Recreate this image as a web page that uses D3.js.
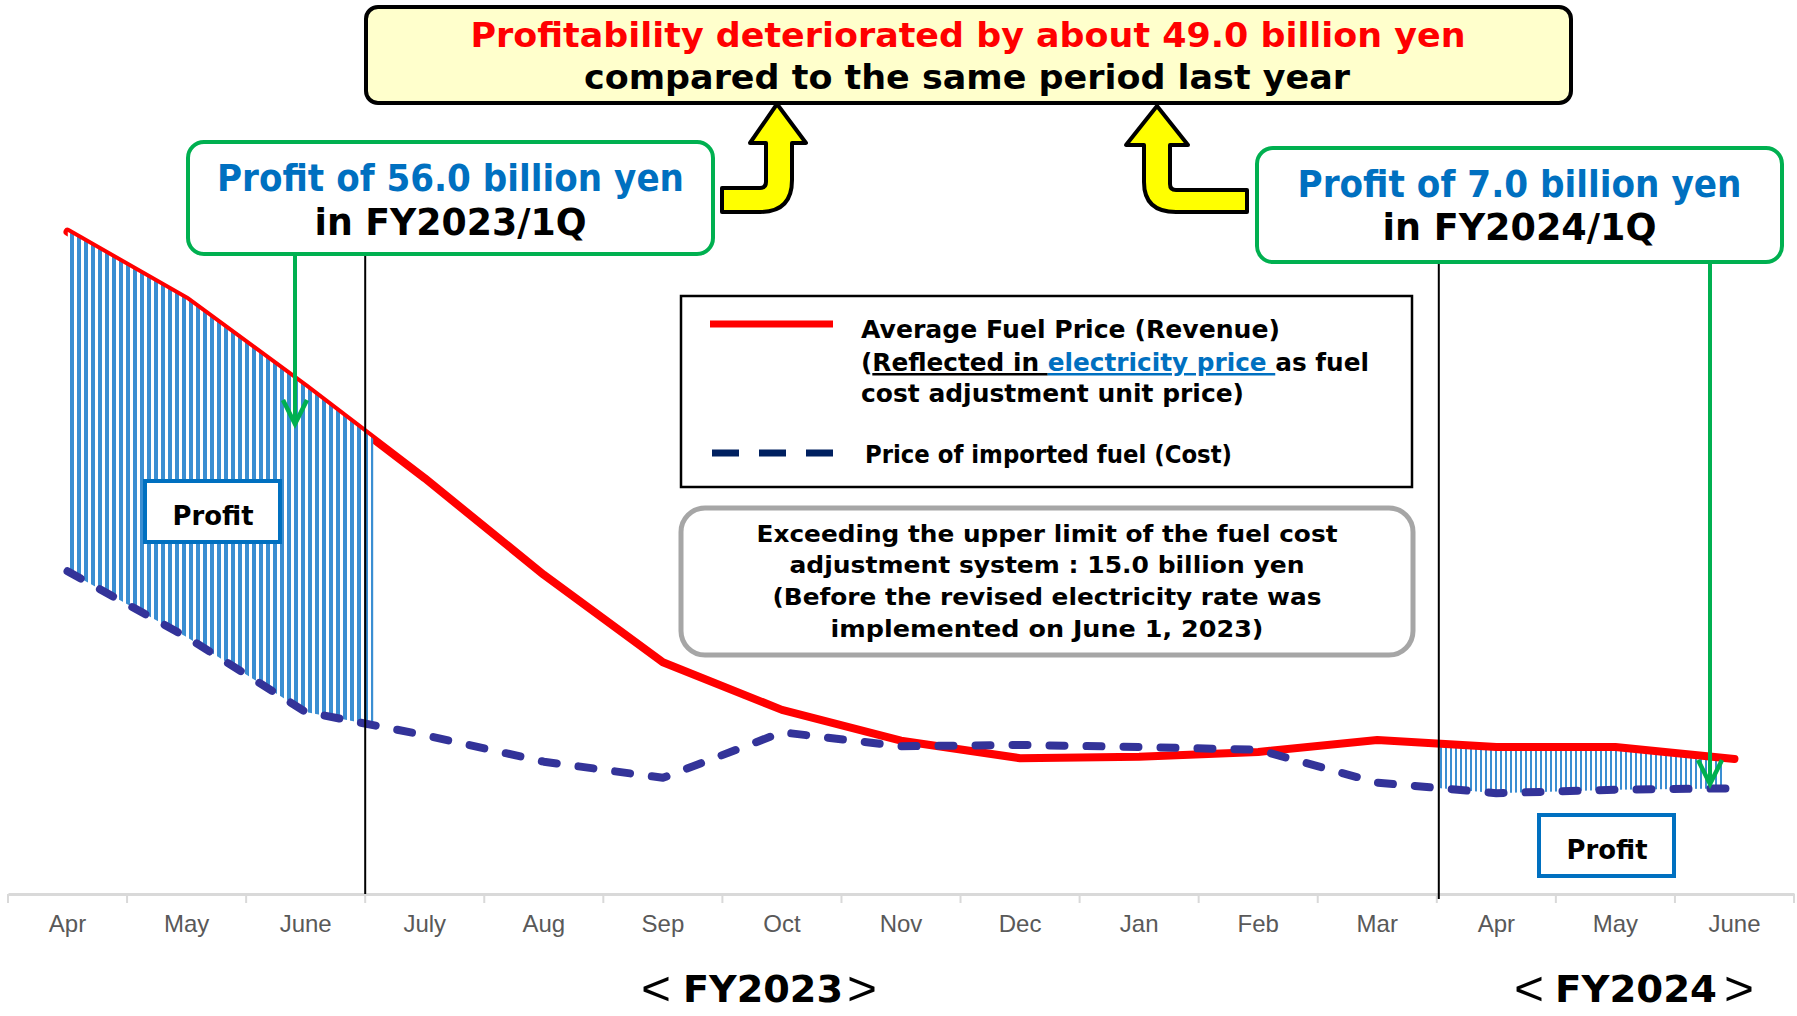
<!DOCTYPE html>
<html lang="en">
<head>
<meta charset="UTF-8">
<title>Fuel price vs revenue</title>
<script src="https://d3js.org/d3.v7.min.js"></script>
<style>
  body { margin: 0; background: #fff; }
</style>
</head>
<body>
<script>
// month labels, FY2023 Apr .. FY2024 June
var months = ['Apr', 'May', 'June', 'July', 'Aug', 'Sep', 'Oct', 'Nov', 'Dec', 'Jan', 'Feb', 'Mar', 'Apr', 'May', 'June'];
// average fuel price reflected in electricity price (revenue), index
var revenue = [94.6, 84.9, 72.4, 59.4, 45.6, 33.1, 26.3, 21.9, 19.4, 19.6, 20.3, 22.0, 21.0, 21.0, 19.3];
// price of imported fuel (cost)
var cost = [46.1, 36.7, 26.0, 22.7, 18.9, 16.6, 23.1, 21.1, 21.3, 21.0, 20.6, 15.9, 14.4, 14.9, 15.1];

var W = 1797, H = 1016;
var FONT = "'DejaVu Sans', Verdana, sans-serif";

var svg = d3.select('body').append('svg')
    .attr('width', W)
    .attr('height', H)
    .style('background', '#fff');

var x = d3.scaleBand().domain(d3.range(months.length)).range([8, 1794]).padding(0);
var cx = function(i) { return x(i) + x.bandwidth() / 2; };
var y = d3.scaleLinear().domain([0, 100]).range([894, 194]);

var rows = months.map(function(m, i) { return {r: revenue[i], c: cost[i]}; });

// hatch patterns
var defs = svg.append('defs');
function stripes(id, w, sw) {
    var p = defs.append('pattern').attr('id', id).attr('patternUnits', 'userSpaceOnUse')
        .attr('width', w).attr('height', 10);
    p.append('rect').attr('width', w).attr('height', 10).attr('fill', '#fff');
    p.append('rect').attr('width', sw).attr('height', 10).attr('fill', '#3A8ED2');
}
stripes('hatchA', 7, 4);
stripes('hatchB', 5, 2);

defs.append('clipPath').attr('id', 'clipA').append('rect')
    .attr('x', cx(0)).attr('y', 0).attr('width', x(3) + 8 - cx(0)).attr('height', H);
defs.append('clipPath').attr('id', 'clipB').append('rect')
    .attr('x', x(12) + 2).attr('y', 0).attr('width', cx(14) - 10 - x(12) - 2).attr('height', H);

// x axis
var axis = d3.axisBottom(x).tickFormat(function(i) { return months[i]; })
    .tickSize(0).tickSizeOuter(0).tickPadding(21);
var gx = svg.append('g').attr('transform', 'translate(0,894)').call(axis);
gx.select('.domain').attr('stroke', '#D9D9D9').attr('stroke-width', 3);
gx.selectAll('text')
    .attr('font-family', "'Liberation Sans', Arial, sans-serif")
    .attr('font-size', 24)
    .attr('fill', '#595959');
gx.selectAll('line.bound').data(d3.range(months.length + 1)).join('line')
    .attr('class', 'bound')
    .attr('x1', function(i) { return i < months.length ? x(i) : x.range()[1]; })
    .attr('x2', function(i) { return i < months.length ? x(i) : x.range()[1]; })
    .attr('y1', 0).attr('y2', 9)
    .attr('stroke', '#D9D9D9').attr('stroke-width', 2);

var area = d3.area()
    .x(function(d, i) { return cx(i); })
    .y0(function(d) { return y(d.c); })
    .y1(function(d) { return y(d.r); });
var line = d3.line()
    .x(function(d, i) { return cx(i); })
    .y(function(d) { return y(d); });

// FY2024 profit area sits under the red line
svg.append('path').datum(rows).attr('d', area)
    .attr('fill', 'url(#hatchB)').attr('clip-path', 'url(#clipB)');

svg.append('path').datum(revenue).attr('d', line)
    .attr('fill', 'none').attr('stroke', '#FF0000').attr('stroke-width', 8)
    .attr('stroke-linejoin', 'round').attr('stroke-linecap', 'round');

// FY2023 profit area is drawn over the red line
svg.append('path').datum(rows).attr('d', area)
    .attr('fill', 'url(#hatchA)').attr('clip-path', 'url(#clipA)');

svg.append('path').datum(cost).attr('d', line)
    .attr('fill', 'none').attr('stroke', '#333399').attr('stroke-width', 8)
    .attr('stroke-dasharray', '15 22').attr('stroke-linecap', 'round')
    .attr('stroke-linejoin', 'round');

// quarter separators
svg.append('line').attr('x1', x(3)).attr('x2', x(3)).attr('y1', 254).attr('y2', 894)
    .attr('stroke', '#000').attr('stroke-width', 2);
svg.append('line').attr('x1', x(12) + 2).attr('x2', x(12) + 2).attr('y1', 262).attr('y2', 899)
    .attr('stroke', '#000').attr('stroke-width', 2);

function label(txt, tx, ty, size, color, width, anchor) {
    return svg.append('text')
        .attr('x', tx).attr('y', ty)
        .attr('font-family', FONT).attr('font-weight', 'bold')
        .attr('font-size', size).attr('fill', color)
        .attr('text-anchor', anchor || 'middle')
        .attr('textLength', width).attr('lengthAdjust', 'spacingAndGlyphs')
        .text(txt);
}

// headline box
svg.append('rect').attr('x', 366).attr('y', 7).attr('width', 1205).attr('height', 96).attr('rx', 12)
    .attr('fill', '#FFFFCC').attr('stroke', '#000').attr('stroke-width', 4);
label('Profitability deteriorated by about 49.0 billion yen', 968, 47, 34, '#FF0000', 995);
label('compared to the same period last year', 967, 89, 34, '#000', 766);

// yellow bent arrows
svg.append('path')
    .attr('d', 'M722,188 L760,188 Q766,188 766,182 L766,143 L750,143 L777,104 L806,143 L792,143 L792,180 Q792,212 760,212 L722,212 Z')
    .attr('fill', '#FFFF00').attr('stroke', '#000').attr('stroke-width', 4).attr('stroke-linejoin', 'round');
svg.append('path')
    .attr('d', 'M1247,190 L1176,190 Q1170,190 1170,184 L1170,145 L1188,145 L1157,106 L1126,145 L1144,145 L1144,182 Q1144,212 1176,212 L1247,212 Z')
    .attr('fill', '#FFFF00').attr('stroke', '#000').attr('stroke-width', 4).attr('stroke-linejoin', 'round');

// green callouts
function callout(bx, by, bw, bh, t1, w1, b1, t2, w2, b2, ax, ay) {
    svg.append('line').attr('x1', ax).attr('x2', ax).attr('y1', by + bh).attr('y2', ay)
        .attr('stroke', '#00B050').attr('stroke-width', 4);
    svg.append('path').attr('d', 'M' + (ax - 12) + ',' + (ay - 24) + ' L' + ax + ',' + ay + ' L' + (ax + 12) + ',' + (ay - 24))
        .attr('fill', 'none').attr('stroke', '#00B050').attr('stroke-width', 4.5);
    svg.append('rect').attr('x', bx).attr('y', by).attr('width', bw).attr('height', bh).attr('rx', 16)
        .attr('fill', '#fff').attr('stroke', '#00B050').attr('stroke-width', 4);
    label(t1, bx + bw / 2, b1, 38, '#0070C0', w1);
    label(t2, bx + bw / 2, b2, 38, '#000', w2);
}
callout(188, 142, 525, 112, 'Profit of 56.0 billion yen', 467, 191, 'in FY2023/1Q', 272, 235, 295, 424);
callout(1257, 148, 525, 114, 'Profit of 7.0 billion yen', 444, 197, 'in FY2024/1Q', 274, 240, 1710, 784);

// "Profit" tags
function tag(bx, by) {
    svg.append('rect').attr('x', bx).attr('y', by).attr('width', 135).attr('height', 61)
        .attr('fill', '#fff').attr('stroke', '#0070C0').attr('stroke-width', 4);
    label('Profit', bx + 68, by + 44, 27, '#000', 81);
}
tag(145, 481);
tag(1539, 815);

// legend
svg.append('rect').attr('x', 681).attr('y', 296).attr('width', 731).attr('height', 191)
    .attr('fill', '#fff').attr('stroke', '#000').attr('stroke-width', 2.5);
svg.append('line').attr('x1', 710).attr('x2', 833).attr('y1', 324).attr('y2', 324)
    .attr('stroke', '#FF0000').attr('stroke-width', 7);
svg.append('line').attr('x1', 712).attr('x2', 833).attr('y1', 453).attr('y2', 453)
    .attr('stroke', '#002060').attr('stroke-width', 7).attr('stroke-dasharray', '27 20');
label('Average Fuel Price (Revenue)', 861, 338, 25, '#000', 419, 'start');
var l2 = svg.append('text').attr('x', 861).attr('y', 371)
    .attr('font-family', FONT).attr('font-weight', 'bold').attr('font-size', 25).attr('fill', '#000')
    .attr('textLength', 508).attr('lengthAdjust', 'spacingAndGlyphs');
l2.append('tspan').text('(');
l2.append('tspan').attr('text-decoration', 'underline').text('Reflected in ');
l2.append('tspan').attr('text-decoration', 'underline').attr('fill', '#0070C0').text('electricity price ');
l2.append('tspan').text('as fuel');
label('cost adjustment unit price)', 861, 402, 25, '#000', 383, 'start');
label('Price of imported fuel (Cost)', 865, 463, 25, '#000', 367, 'start');

// note box
svg.append('rect').attr('x', 681).attr('y', 508).attr('width', 732).attr('height', 147).attr('rx', 24)
    .attr('fill', '#fff').attr('stroke', '#A6A6A6').attr('stroke-width', 5);
label('Exceeding the upper limit of the fuel cost', 1047, 542, 23, '#000', 581);
label('adjustment system : 15.0 billion yen', 1047, 573, 23, '#000', 515);
label('(Before the revised electricity rate was', 1047, 605, 23, '#000', 549);
label('implemented on June 1, 2023)', 1047, 637, 23, '#000', 433);

// fiscal year labels: thin tall brackets around bold text
function fy(txt, left, textStart, textW, right) {
    function bracket(ch, bx) {
        svg.append('text').attr('x', bx).attr('y', 1005)
            .attr('font-family', "'Liberation Sans', Arial, sans-serif")
            .attr('font-size', 48).attr('fill', '#000')
            .attr('textLength', 30).attr('lengthAdjust', 'spacingAndGlyphs')
            .text(ch);
    }
    bracket('<', left - 3);
    label(txt, textStart, 1002, 38, '#000', textW, 'start');
    bracket('>', right - 3);
}
fy('FY2023', 644, 683, 160, 850);
fy('FY2024', 1517, 1555, 162, 1727);
</script>
</body>
</html>
